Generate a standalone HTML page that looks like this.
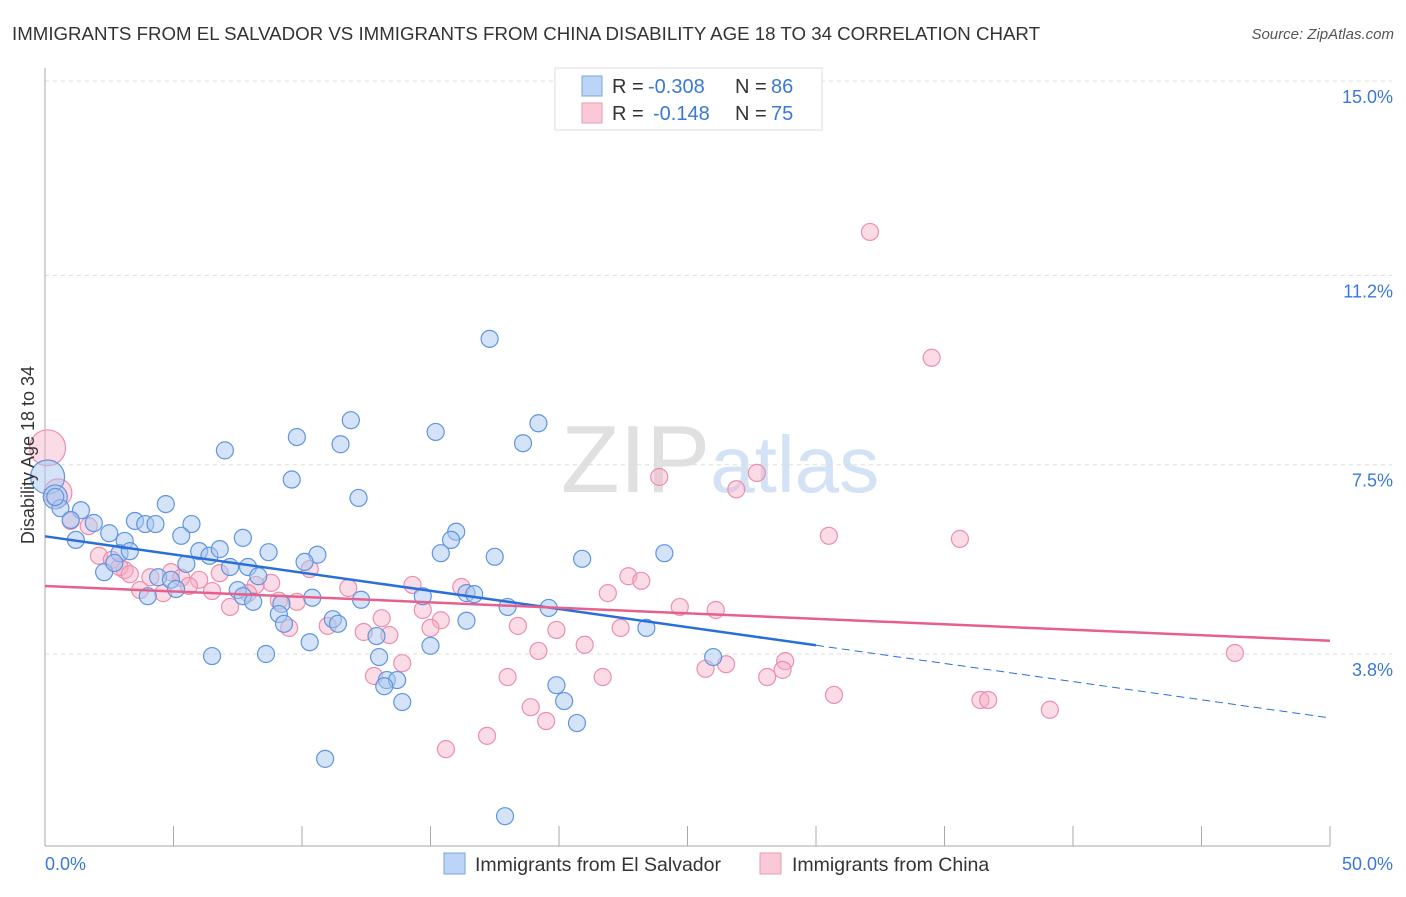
<!DOCTYPE html>
<html><head><meta charset="utf-8"><style>
body{margin:0;background:#fff;font-family:"Liberation Sans",sans-serif}
svg text{font-family:"Liberation Sans",sans-serif}
</style></head><body>
<svg width="1406" height="892" viewBox="0 0 1406 892">
<text x="12" y="40" font-size="18" fill="#333" textLength="1028" lengthAdjust="spacingAndGlyphs">IMMIGRANTS FROM EL SALVADOR VS IMMIGRANTS FROM CHINA DISABILITY AGE 18 TO 34 CORRELATION CHART</text>
<text x="1394" y="39" font-size="15" fill="#555" font-style="italic" text-anchor="end">Source: ZipAtlas.com</text>
<text x="720" y="492" font-size="96" fill="#ddd" text-anchor="middle" font-family="Liberation Serif"><tspan fill="#e0e0e0">ZIP</tspan><tspan fill="#d3e2f4" font-family="Liberation Sans" font-size="80">atlas</tspan></text>
<g id="grid"></g>
<g id="axes"></g>
<g id="marks"></g>
<text x="34" y="455" font-size="18" fill="#333" text-anchor="middle" transform="rotate(-90 34 455)">Disability Age 18 to 34</text>
<g>
<rect x="555" y="68" width="267" height="62" fill="#fff" stroke="#ddd"/>
<rect x="582" y="76" width="20" height="20" fill="#bcd4f5" stroke="#7aa5e0"/>
<rect x="582" y="103" width="20" height="20" fill="#f9c9d8" stroke="#eb9ab3"/>
<text y="93" font-size="20" fill="#333"><tspan x="612">R =</tspan><tspan x="648" fill="#3a78d8">-0.308</tspan><tspan x="735">N =</tspan><tspan x="771" fill="#3a78d8">86</tspan></text>
<text y="120" font-size="20" fill="#333"><tspan x="612">R =</tspan><tspan x="653" fill="#3a78d8">-0.148</tspan><tspan x="735">N =</tspan><tspan x="771" fill="#3a78d8">75</tspan></text>
</g>
<g>
<rect x="444" y="853" width="21" height="21" fill="#bcd4f5" stroke="#7aa5e0"/>
<text x="475" y="871" font-size="19.5" fill="#333">Immigrants from El Salvador</text>
<rect x="760" y="853" width="21" height="21" fill="#f9c9d8" stroke="#eb9ab3"/>
<text x="792" y="871" font-size="19.5" fill="#333">Immigrants from China</text>
</g>
</svg>
<script>
const yTicks=[15.0,11.2,7.5,3.8];
const yTickLabels=["15.0%","11.2%","7.5%","3.8%"];
const xTickVals=[0,5,10,15,20,25,30,35,40,45,50];
const blueX=[17.3,17.9,10.9,11.9,15.2,19.2,9.8,11.5,18.6,7.0,9.6,12.2,4.7,1.4,0.6,0.4,1.0,1.9,2.5,1.2,3.5,3.9,4.3,5.7,5.3,3.1,2.9,3.3,7.7,16.0,15.8,15.4,17.5,20.9,24.1,6.0,6.4,6.8,8.7,10.6,10.1,5.5,7.2,7.9,2.3,2.7,4.4,4.9,5.1,4.0,7.5,8.3,7.7,8.1,9.2,10.4,12.3,14.7,16.4,16.7,18.0,19.6,23.4,9.1,9.3,11.2,11.4,16.4,12.9,10.3,15.0,6.5,8.6,13.0,26.0,13.3,13.7,13.2,13.9,19.9,20.2,20.7];
const blueY=[9.96,0.63,1.75,8.37,8.14,8.31,8.04,7.9,7.92,7.78,7.21,6.85,6.73,6.61,6.65,6.87,6.42,6.36,6.16,6.03,6.4,6.34,6.34,6.34,6.11,6.01,5.77,5.81,6.07,6.19,6.03,5.77,5.7,5.66,5.77,5.81,5.72,5.85,5.79,5.74,5.6,5.56,5.5,5.5,5.4,5.58,5.3,5.25,5.07,4.93,5.05,5.32,4.93,4.82,4.78,4.9,4.86,4.93,4.99,4.97,4.72,4.7,4.31,4.58,4.39,4.48,4.39,4.45,4.15,4.03,3.96,3.76,3.8,3.74,3.74,3.29,3.29,3.17,2.86,3.19,2.88,2.45];
const pinkX=[32.1,34.5,23.9,27.7,26.9,30.5,35.6,1.7,1.0,2.1,2.6,3.1,2.9,3.3,4.1,4.9,5.3,6.0,6.8,10.3,3.7,4.6,5.6,6.5,8.2,8.8,11.8,14.3,16.2,22.7,23.2,21.9,7.9,7.2,9.1,9.8,14.7,24.7,26.1,13.1,15.4,9.5,11.0,12.4,13.4,15.0,18.4,19.9,22.4,21.0,19.2,13.9,26.5,25.7,28.8,28.7,28.1,12.8,18.0,21.7,30.7,36.4,36.7,39.1,46.3,18.9,19.5,17.2,15.6];
const pinkY=[12.05,9.59,7.26,7.34,7.02,6.11,6.05,6.3,6.4,5.72,5.64,5.44,5.5,5.36,5.3,5.4,5.29,5.25,5.38,5.46,5.05,4.99,5.13,5.03,5.15,5.19,5.09,5.15,5.11,5.32,5.23,4.99,4.99,4.72,4.84,4.82,4.66,4.72,4.66,4.5,4.46,4.31,4.35,4.23,4.17,4.31,4.35,4.27,4.31,3.98,3.86,3.62,3.6,3.51,3.66,3.49,3.35,3.37,3.35,3.35,3.0,2.9,2.9,2.71,3.82,2.76,2.49,2.2,1.94];
const bigBlue=[[0.1,7.26,17],[0.4,6.87,12]];
const bigPink=[[0.1,7.83,18],[0.5,6.95,14]];
const blueTrend=[6.1,-0.071];
const pinkTrend=[5.13,-0.0214];
const NS="http://www.w3.org/2000/svg";
const X=v=>45+v*25.7, Y=v=>81+(15-v)*51.16;
function mk(t,a,p){const e=document.createElementNS(NS,t);for(const k in a)e.setAttribute(k,a[k]);p.appendChild(e);return e;}
const grid=document.getElementById('grid'),axes=document.getElementById('axes'),marks=document.getElementById('marks');
yTicks.forEach((t,i)=>{
 const l=mk('line',{x1:45,x2:1392,y1:Y(t),y2:Y(t),stroke:'#ddd','stroke-dasharray':'4,4'},grid);
 
 
 const tx=mk('text',{x:1393,y:Y(t)+22,'font-size':18,fill:'#3a78d8','text-anchor':'end'},axes);
 tx.textContent=yTickLabels[i];
 
 
});
const ax=mk('line',{x1:45,x2:45,y1:68,y2:846,stroke:'#aaa'},axes);


const bx=mk('line',{x1:45,x2:1330,y1:846,y2:846,stroke:'#aaa'},axes);


xTickVals.forEach(v=>{
 const t=mk('line',{x1:X(v),x2:X(v),y1:826,y2:846,stroke:'#aaa'},axes);
 
 
});
[["0.0%",45,'start'],["50.0%",1393,'end']].forEach(a=>{
 const t=mk('text',{x:a[1],y:870,'font-size':18,fill:'#3a78d8','text-anchor':a[2]},axes);
 t.textContent=a[0];
 
 
});
function dot(x,y,r,c){
 const fill=c=='b'?'rgba(169,200,240,0.5)':'rgba(244,176,200,0.45)';
 const st=c=='b'?'#5f95e0':'#ec8fae';
 const e=mk('circle',{cx:X(x),cy:Y(y),r:r,fill:fill,stroke:st,'stroke-width':1.2},marks);
 
 
}
bigPink.forEach(p=>dot(p[0],p[1],p[2],'p'));
bigBlue.forEach(p=>dot(p[0],p[1],p[2],'b'));
pinkX.forEach((x,i)=>dot(x,pinkY[i],8.5,'p'));
blueX.forEach((x,i)=>dot(x,blueY[i],8.5,'b'));
const b1=mk('line',{x1:X(0),y1:Y(blueTrend[0]),x2:X(30),y2:Y(blueTrend[0]+blueTrend[1]*30),stroke:'#2a6fd8','stroke-width':2.5},marks);


const b2=mk('line',{x1:X(30),y1:Y(blueTrend[0]+blueTrend[1]*30),x2:X(50),y2:Y(blueTrend[0]+blueTrend[1]*50),stroke:'#2a6fd8','stroke-width':1,'stroke-dasharray':'8,5'},marks);


const p1=mk('line',{x1:X(0),y1:Y(pinkTrend[0]),x2:X(50),y2:Y(pinkTrend[0]+pinkTrend[1]*50),stroke:'#e5608c','stroke-width':2.5},marks);


</script>
</body></html>
